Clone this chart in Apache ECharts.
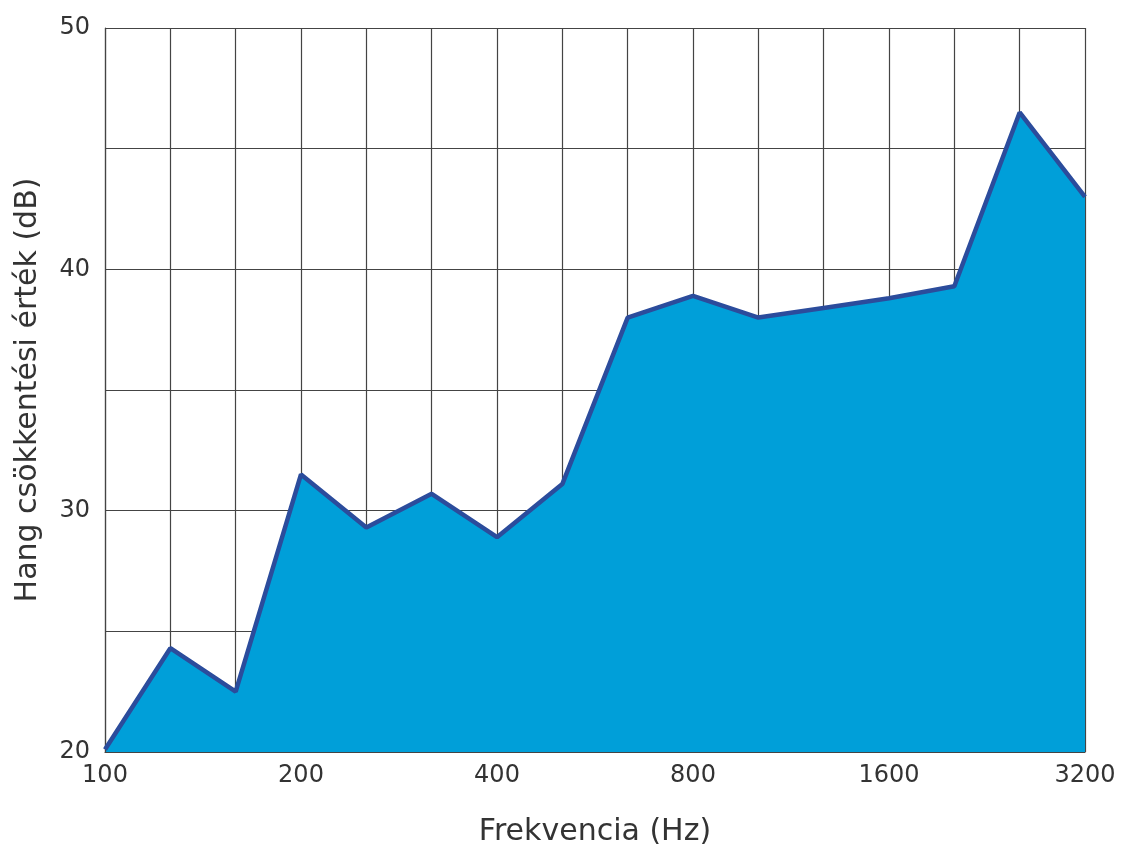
<!DOCTYPE html>
<html>
<head>
<meta charset="utf-8">
<script src="https://cdn.jsdelivr.net/npm/echarts@6/dist/echarts.min.js"></script>
<style>
  html, body { margin: 0; padding: 0; background: #fff; }
  #main { width: 1126px; height: 852px; }
</style>
</head>
<body>
<div id="main"></div>
<script>
// frekvencia sávok (Hz)
var frequencies = ['100', '125', '160', '200', '250', '315', '400', '500', '630',
                   '800', '1000', '1250', '1600', '2000', '2500', '3200'];
// hangcsökkentési érték (dB)
var reduction = [20.1, 24.3, 22.5, 31.5, 29.3, 30.7, 28.9, 31.1, 38.0,
                 38.9, 38.0, 38.4, 38.8, 39.3, 46.5, 43.0];
var yLabels = [20, 30, 40, 50];

var gridColor = '#444444';
var font = 'DejaVu Sans';

var myChart = echarts.init(document.getElementById('main'));
myChart.setOption({
    backgroundColor: '#ffffff',
    animation: false,
    grid: { left: 105, right: 41, top: 28, bottom: 100 },
    xAxis: {
        type: 'category',
        data: frequencies,
        boundaryGap: false,
        z: 3,
        name: 'Frekvencia (Hz)',
        nameLocation: 'middle',
        nameGap: 65,
        nameTextStyle: { fontFamily: font, fontSize: 30, color: '#333' },
        axisLine: { lineStyle: { color: gridColor, width: 1.2 } },
        axisTick: { show: false },
        axisLabel: {
            interval: 2,
            margin: 12,
            fontFamily: font, fontSize: 24, color: '#333'
        },
        splitLine: { show: true, interval: 0, lineStyle: { color: gridColor, width: 1.2 } }
    },
    yAxis: {
        type: 'value',
        min: 20,
        max: 50,
        interval: 5,
        z: 3,
        name: 'Hang csökkentési érték (dB)',
        nameLocation: 'middle',
        nameGap: 62,
        nameTextStyle: { fontFamily: font, fontSize: 30, color: '#333' },
        axisLine: { show: true, lineStyle: { color: gridColor, width: 1.2 } },
        axisTick: { show: false },
        axisLabel: {
            margin: 15,
            fontFamily: font, fontSize: 24, color: '#333',
            padding: [0, 0, 12, 0],
            formatter: function (v) {
                return yLabels.indexOf(v) >= 0 ? String(v) : '';
            }
        },
        splitLine: { show: true, lineStyle: { color: gridColor, width: 1.2 } }
    },
    series: [
        {
            type: 'line',
            data: reduction,
            symbol: 'none',
            lineStyle: { color: '#2b4c9c', width: 4.5 },
            areaStyle: { color: '#009fd9', opacity: 1 }
        }
    ]
});
</script>
</body>
</html>
